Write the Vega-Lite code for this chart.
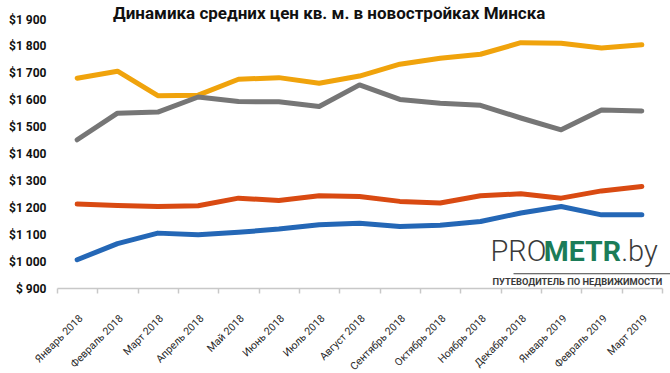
{
  "$schema": "https://vega.github.io/schema/vega-lite/v6.json",
  "width": 605,
  "height": 269,
  "autosize": "none",
  "padding": {"left": 57, "top": 19, "right": 8, "bottom": 85},
  "background": "white",
  "config": {"view": {"stroke": null}},
  "title": {
    "text": "Динамика средних цен кв. м. в новостройках Минска",
    "font": "Roboto",
    "fontWeight": "bold",
    "fontSize": 17,
    "color": "#111111",
    "anchor": "start",
    "frame": "group",
    "dx": 56,
    "offset": -10
  },
  "datasets": {
    "prices": [
      {"month": "Январь 2018", "series": "Серия 1", "price": 1680},
      {"month": "Февраль 2018", "series": "Серия 1", "price": 1706},
      {"month": "Март 2018", "series": "Серия 1", "price": 1615},
      {"month": "Апрель 2018", "series": "Серия 1", "price": 1617},
      {"month": "Май 2018", "series": "Серия 1", "price": 1676},
      {"month": "Июнь 2018", "series": "Серия 1", "price": 1682},
      {"month": "Июль 2018", "series": "Серия 1", "price": 1661},
      {"month": "Август 2018", "series": "Серия 1", "price": 1688},
      {"month": "Сентябрь 2018", "series": "Серия 1", "price": 1732},
      {"month": "Октябрь 2018", "series": "Серия 1", "price": 1754},
      {"month": "Ноябрь 2018", "series": "Серия 1", "price": 1769},
      {"month": "Декабрь 2018", "series": "Серия 1", "price": 1812},
      {"month": "Январь 2019", "series": "Серия 1", "price": 1810},
      {"month": "Февраль 2019", "series": "Серия 1", "price": 1792},
      {"month": "Март 2019", "series": "Серия 1", "price": 1804},
      {"month": "Январь 2018", "series": "Серия 2", "price": 1451},
      {"month": "Февраль 2018", "series": "Серия 2", "price": 1550},
      {"month": "Март 2018", "series": "Серия 2", "price": 1554},
      {"month": "Апрель 2018", "series": "Серия 2", "price": 1610},
      {"month": "Май 2018", "series": "Серия 2", "price": 1593},
      {"month": "Июнь 2018", "series": "Серия 2", "price": 1592},
      {"month": "Июль 2018", "series": "Серия 2", "price": 1575},
      {"month": "Август 2018", "series": "Серия 2", "price": 1655},
      {"month": "Сентябрь 2018", "series": "Серия 2", "price": 1601},
      {"month": "Октябрь 2018", "series": "Серия 2", "price": 1587},
      {"month": "Ноябрь 2018", "series": "Серия 2", "price": 1579},
      {"month": "Декабрь 2018", "series": "Серия 2", "price": 1532},
      {"month": "Январь 2019", "series": "Серия 2", "price": 1488},
      {"month": "Февраль 2019", "series": "Серия 2", "price": 1562},
      {"month": "Март 2019", "series": "Серия 2", "price": 1558},
      {"month": "Январь 2018", "series": "Серия 3", "price": 1212},
      {"month": "Февраль 2018", "series": "Серия 3", "price": 1207},
      {"month": "Март 2018", "series": "Серия 3", "price": 1203},
      {"month": "Апрель 2018", "series": "Серия 3", "price": 1206},
      {"month": "Май 2018", "series": "Серия 3", "price": 1234},
      {"month": "Июнь 2018", "series": "Серия 3", "price": 1225},
      {"month": "Июль 2018", "series": "Серия 3", "price": 1243},
      {"month": "Август 2018", "series": "Серия 3", "price": 1240},
      {"month": "Сентябрь 2018", "series": "Серия 3", "price": 1222},
      {"month": "Октябрь 2018", "series": "Серия 3", "price": 1216},
      {"month": "Ноябрь 2018", "series": "Серия 3", "price": 1243},
      {"month": "Декабрь 2018", "series": "Серия 3", "price": 1250},
      {"month": "Январь 2019", "series": "Серия 3", "price": 1234},
      {"month": "Февраль 2019", "series": "Серия 3", "price": 1261},
      {"month": "Март 2019", "series": "Серия 3", "price": 1277},
      {"month": "Январь 2018", "series": "Серия 4", "price": 1005},
      {"month": "Февраль 2018", "series": "Серия 4", "price": 1065},
      {"month": "Март 2018", "series": "Серия 4", "price": 1104},
      {"month": "Апрель 2018", "series": "Серия 4", "price": 1098},
      {"month": "Май 2018", "series": "Серия 4", "price": 1107},
      {"month": "Июнь 2018", "series": "Серия 4", "price": 1119},
      {"month": "Июль 2018", "series": "Серия 4", "price": 1135},
      {"month": "Август 2018", "series": "Серия 4", "price": 1141},
      {"month": "Сентябрь 2018", "series": "Серия 4", "price": 1129},
      {"month": "Октябрь 2018", "series": "Серия 4", "price": 1133},
      {"month": "Ноябрь 2018", "series": "Серия 4", "price": 1147},
      {"month": "Декабрь 2018", "series": "Серия 4", "price": 1179},
      {"month": "Январь 2019", "series": "Серия 4", "price": 1203},
      {"month": "Февраль 2019", "series": "Серия 4", "price": 1172},
      {"month": "Март 2019", "series": "Серия 4", "price": 1172}
    ],
    "logo": [
      {"part": "PRO", "month": "Ноябрь 2018", "price": 1000},
      {"part": "METR", "month": "Декабрь 2018", "price": 1000},
      {"part": ".by", "month": "Март 2019", "price": 1000},
      {"part": "ПУТЕВОДИТЕЛЬ ПО НЕДВИЖИМОСТИ", "month": "Ноябрь 2018", "price": 912}
    ],
    "logoline": [
      {"from": "Ноябрь 2018", "to": "Март 2019", "price": 953}
    ]
  },
  "encoding": {
    "x": {
      "field": "month",
      "type": "nominal",
      "sort": null,
      "scale": {"type": "band", "paddingInner": 0, "paddingOuter": 0,
        "domain": ["Январь 2018", "Февраль 2018", "Март 2018", "Апрель 2018", "Май 2018", "Июнь 2018", "Июль 2018", "Август 2018", "Сентябрь 2018", "Октябрь 2018", "Ноябрь 2018", "Декабрь 2018", "Январь 2019", "Февраль 2019", "Март 2019"]},
      "axis": {
        "title": null,
        "labelAngle": -45,
        "labelFont": "Roboto",
        "labelFontSize": 10.5,
        "labelColor": "#2a2a2a",
        "labelPadding": 20,
        "domainColor": "#c8c8c8",
        "domainWidth": 1.5,
        "tickColor": "#c8c8c8",
        "tickWidth": 1.5,
        "tickSize": 5,
        "tickBand": "extent",
        "grid": false
      }
    },
    "y": {
      "field": "price",
      "type": "quantitative",
      "scale": {"domain": [900, 1900], "nice": false, "zero": false},
      "axis": {
        "title": null,
        "values": [900, 1000, 1100, 1200, 1300, 1400, 1500, 1600, 1700, 1800, 1900],
        "labelExpr": "datum.value >= 1000 ? '$' + floor(datum.value / 1000) + ' ' + format(datum.value % 1000, '03d') : '$ ' + datum.value",
        "labelFont": "Roboto",
        "labelFontWeight": "bold",
        "labelFontSize": 12,
        "labelColor": "#111111",
        "labelPadding": 11,
        "domain": false,
        "ticks": false,
        "grid": false
      }
    }
  },
  "layer": [
    {
      "data": {"name": "prices"},
      "mark": {"type": "line", "strokeWidth": 5, "strokeCap": "round", "strokeJoin": "round"},
      "encoding": {
        "x": {"field": "month", "type": "nominal", "sort": null, "bandPosition": 0.5},
        "color": {
          "field": "series",
          "type": "nominal",
          "scale": {"domain": ["Серия 1", "Серия 2", "Серия 3", "Серия 4"], "range": ["#F0A30C", "#767676", "#D94A12", "#2467B6"]},
          "legend": null
        }
      }
    },
    {
      "data": {"name": "logo"},
      "transform": [{"filter": "datum.part === 'PRO'"}],
      "mark": {"type": "text", "align": "left", "baseline": "alphabetic", "dx": 10, "font": "Roboto", "fontSize": 29, "fontWeight": 300, "color": "#3a3a3a"},
      "encoding": {"x": {"field": "month", "type": "nominal", "sort": null, "bandPosition": 0.5}, "text": {"field": "part"}}
    },
    {
      "data": {"name": "logo"},
      "transform": [{"filter": "datum.part === 'METR'"}],
      "mark": {"type": "text", "align": "left", "baseline": "alphabetic", "dx": 23, "font": "Roboto", "fontSize": 28.5, "fontWeight": "bold", "color": "#1B7C58"},
      "encoding": {"x": {"field": "month", "type": "nominal", "sort": null, "bandPosition": 0.5}, "text": {"field": "part"}}
    },
    {
      "data": {"name": "logo"},
      "transform": [{"filter": "datum.part === '.by'"}],
      "mark": {"type": "text", "align": "right", "baseline": "alphabetic", "dx": 16, "font": "Roboto", "fontSize": 29, "fontWeight": 300, "color": "#3a3a3a"},
      "encoding": {"x": {"field": "month", "type": "nominal", "sort": null, "bandPosition": 0.5}, "text": {"field": "part"}}
    },
    {
      "data": {"name": "logo"},
      "transform": [{"filter": "datum.price < 1000"}],
      "mark": {"type": "text", "align": "left", "baseline": "alphabetic", "dx": 12, "font": "Roboto", "fontSize": 9.3, "fontWeight": "bold", "color": "#3a3a3a"},
      "encoding": {"x": {"field": "month", "type": "nominal", "sort": null, "bandPosition": 0.5}, "text": {"field": "part"}}
    },
    {
      "data": {"name": "logoline"},
      "mark": {"type": "rule", "color": "#444444", "strokeWidth": 1, "xOffset": 33, "x2Offset": 33},
      "encoding": {
        "x": {"field": "from", "type": "nominal", "sort": null},
        "x2": {"field": "to"}
      }
    }
  ]
}
